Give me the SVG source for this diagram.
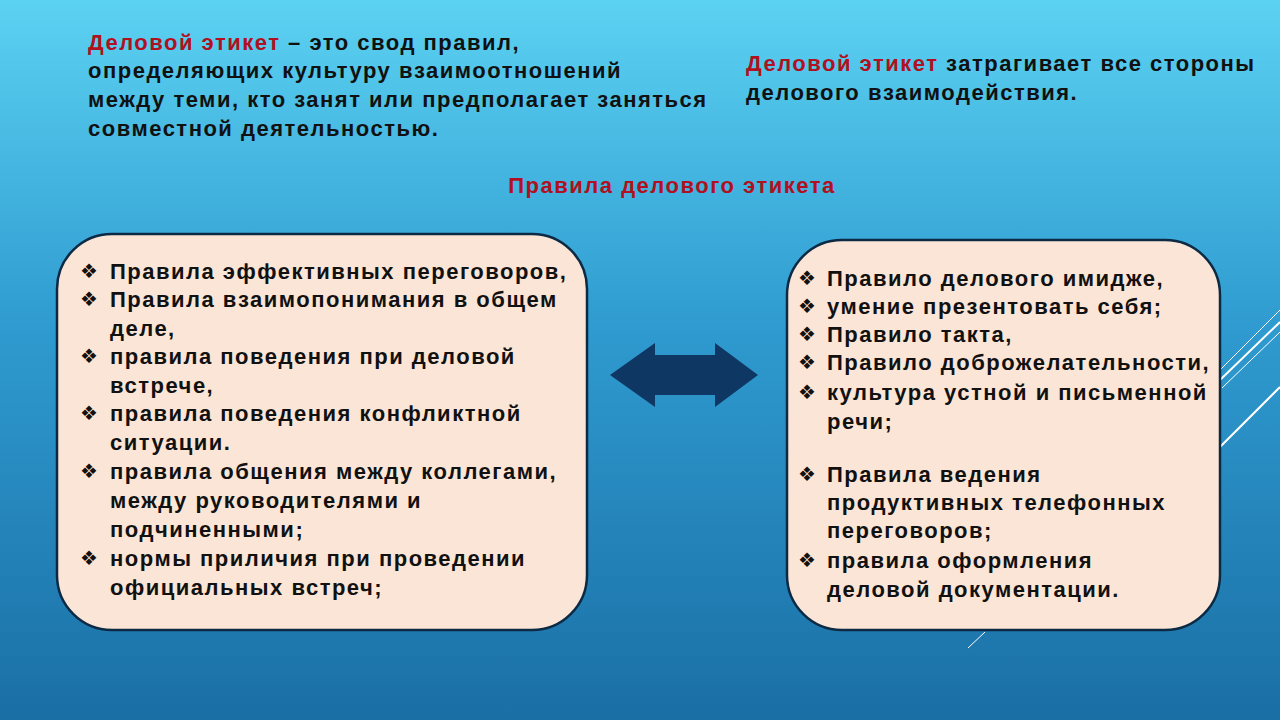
<svg xmlns="http://www.w3.org/2000/svg" width="1280" height="720" viewBox="0 0 1280 720">
<defs>
<linearGradient id="bg" x1="0" y1="0" x2="0" y2="1">
<stop offset="0" stop-color="#5cd2f2"/><stop offset="0.45" stop-color="#2f9bd0"/><stop offset="1" stop-color="#1a6fa5"/>
</linearGradient>
<style>
.t{font-family:"Liberation Sans",Arial,sans-serif;font-weight:bold;font-size:22px;letter-spacing:1.5px;fill:#111}
.r{fill:#b01020}
.b{font-family:"DejaVu Sans",sans-serif;font-size:20px;fill:#111}
.box{fill:#fbe5d6;stroke:#0d2a45;stroke-width:2.5}
.dl{stroke:#fff;fill:none}
</style>
</defs>
<rect width="1280" height="720" fill="url(#bg)"/>
<g class="dl">
<line x1="1220" y1="370" x2="1280" y2="310" stroke-width="1"/>
<line x1="1220" y1="380" x2="1280" y2="322" stroke-width="2"/>
<line x1="1222" y1="388" x2="1280" y2="332" stroke-width="1"/>
<line x1="1220" y1="447" x2="1280" y2="387" stroke-width="2"/>
<line x1="968" y1="648" x2="985" y2="632" stroke-width="1"/>
</g>
<g id="header">
<text class="t" x="88" y="50"><tspan class="r">Деловой этикет</tspan> – это свод правил,</text>
<text class="t" x="88" y="78">определяющих культуру взаимоотношений</text>
<text class="t" x="88" y="107">между теми, кто занят или предполагает заняться</text>
<text class="t" x="88" y="136">совместной деятельностью.</text>
<text class="t" x="746" y="71"><tspan class="r">Деловой этикет</tspan> затрагивает все стороны</text>
<text class="t" x="746" y="100">делового взаимодействия.</text>
<text class="t r" x="672" y="193" text-anchor="middle">Правила делового этикета</text>
</g>
<g id="left-box">
<rect class="box" x="57" y="234" width="530" height="396" rx="55"/>
<text class="b" x="80" y="278">❖</text><text class="t" x="110" y="279">Правила эффективных переговоров,</text>
<text class="b" x="80" y="306">❖</text><text class="t" x="110" y="307">Правила взаимопонимания в общем</text>
<text class="t" x="110" y="336">деле,</text>
<text class="b" x="80" y="363">❖</text><text class="t" x="110" y="364">правила поведения при деловой</text>
<text class="t" x="110" y="393">встрече,</text>
<text class="b" x="80" y="420">❖</text><text class="t" x="110" y="421">правила поведения конфликтной</text>
<text class="t" x="110" y="450">ситуации.</text>
<text class="b" x="80" y="478">❖</text><text class="t" x="110" y="479">правила общения между коллегами,</text>
<text class="t" x="110" y="508">между руководителями и</text>
<text class="t" x="110" y="537">подчиненными;</text>
<text class="b" x="80" y="565">❖</text><text class="t" x="110" y="566">нормы приличия при проведении</text>
<text class="t" x="110" y="595">официальных встреч;</text>
</g>
<g id="connectors">
<polygon points="610,375 655,343 655,355 715,355 715,343 758,375 715,407 715,395 655,395 655,407" fill="#0f3763"/>
</g>
<g id="right-box">
<rect class="box" x="787" y="240" width="433" height="390" rx="55"/>
<text class="b" x="798" y="285">❖</text><text class="t" x="827" y="286">Правило делового имидже,</text>
<text class="b" x="798" y="313">❖</text><text class="t" x="827" y="314"> умение презентовать себя;</text>
<text class="b" x="798" y="341">❖</text><text class="t" x="827" y="342">Правило такта,</text>
<text class="b" x="798" y="369">❖</text><text class="t" x="827" y="370">Правило доброжелательности,</text>
<text class="b" x="798" y="399">❖</text><text class="t" x="827" y="400">культура устной и письменной</text>
<text class="t" x="827" y="429">речи;</text>
<text class="b" x="798" y="481">❖</text><text class="t" x="827" y="482">Правила ведения</text>
<text class="t" x="827" y="510">продуктивных телефонных</text>
<text class="t" x="827" y="538">переговоров;</text>
<text class="b" x="798" y="567">❖</text><text class="t" x="827" y="568"> правила оформления</text>
<text class="t" x="827" y="597">деловой документации.</text>
</g>
</svg>
